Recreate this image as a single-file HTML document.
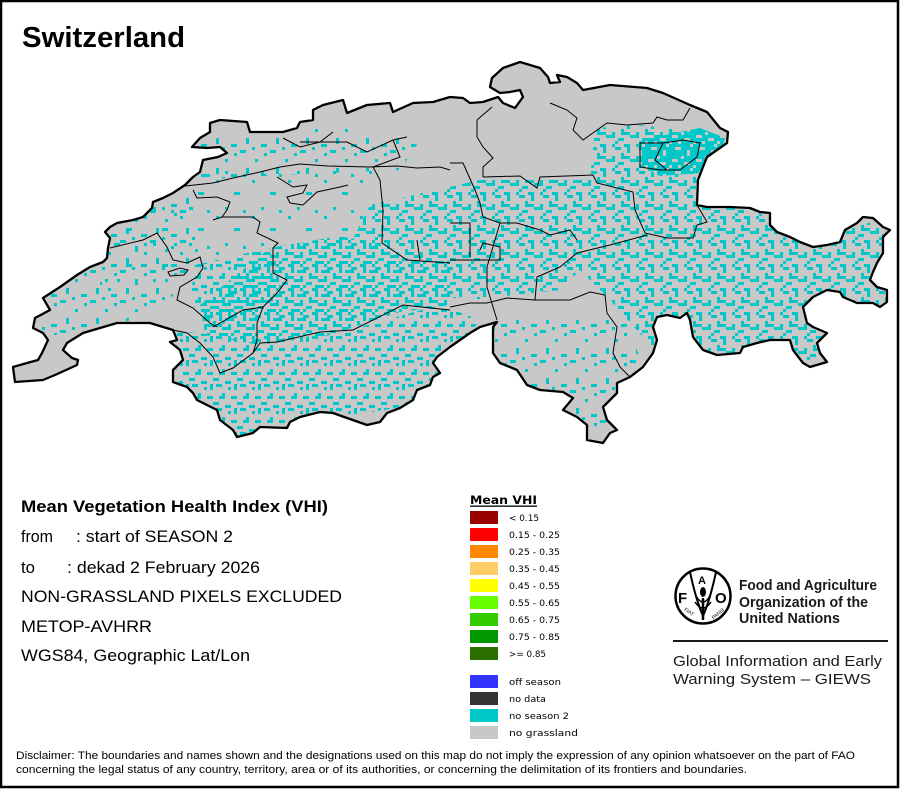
<!DOCTYPE html>
<html><head><meta charset="utf-8"><style>
html,body{margin:0;padding:0;background:#fff;}
svg{display:block;}
</style></head><body>
<svg width="900" height="789" viewBox="0 0 900 789" xmlns="http://www.w3.org/2000/svg">
<defs>
<pattern id="d37" width="24" height="24" patternUnits="userSpaceOnUse"><g fill="#00c8c8">
<rect x="0" y="0" width="6" height="3"/><rect x="3" y="3" width="3" height="6"/><rect x="12" y="0" width="3" height="3"/>
<rect x="9" y="6" width="9" height="3"/><rect x="15" y="3" width="6" height="3"/><rect x="21" y="9" width="3" height="6"/>
<rect x="0" y="12" width="6" height="3"/><rect x="6" y="15" width="6" height="3"/><rect x="12" y="12" width="3" height="6"/>
<rect x="18" y="18" width="6" height="3"/><rect x="3" y="21" width="9" height="3"/><rect x="15" y="21" width="3" height="3"/>
</g></pattern>
<pattern id="d28" width="24" height="24" patternUnits="userSpaceOnUse"><g fill="#00c8c8">
<rect x="0" y="0" width="6" height="3"/><rect x="3" y="3" width="3" height="6"/><rect x="12" y="0" width="3" height="3"/>
<rect x="15" y="3" width="6" height="3"/><rect x="21" y="9" width="3" height="6"/>
<rect x="0" y="12" width="6" height="3"/><rect x="6" y="15" width="6" height="3"/><rect x="12" y="12" width="3" height="6"/>
<rect x="18" y="18" width="6" height="3"/><rect x="15" y="21" width="3" height="3"/>
</g></pattern>
<pattern id="m22" width="24" height="24" patternUnits="userSpaceOnUse"><g fill="#00c8c8">
<rect x="0" y="0" width="6" height="3"/><rect x="12" y="3" width="3" height="3"/><rect x="18" y="0" width="3" height="6"/>
<rect x="6" y="9" width="3" height="6"/><rect x="15" y="12" width="6" height="3"/><rect x="0" y="18" width="3" height="3"/>
<rect x="9" y="21" width="6" height="3"/><rect x="21" y="18" width="3" height="3"/><rect x="3" y="12" width="3" height="3"/>
</g></pattern>
<pattern id="s9" width="30" height="30" patternUnits="userSpaceOnUse"><g fill="#00c8c8">
<rect x="0" y="0" width="6" height="3"/><rect x="15" y="9" width="3" height="3"/><rect x="24" y="3" width="3" height="3"/>
<rect x="6" y="18" width="3" height="6"/><rect x="21" y="24" width="6" height="3"/><rect x="12" y="27" width="3" height="3"/>
</g></pattern>
<pattern id="s4" width="36" height="36" patternUnits="userSpaceOnUse"><g fill="#00c8c8">
<rect x="0" y="0" width="3" height="3"/><rect x="18" y="12" width="6" height="3"/><rect x="9" y="27" width="3" height="3"/><rect x="27" y="30" width="3" height="3"/>
</g></pattern>
<pattern id="d80" width="24" height="24" patternUnits="userSpaceOnUse">
<rect x="0" y="0" width="24" height="24" fill="#00c8c8"/><g fill="#c8c8c8">
<rect x="3" y="3" width="6" height="3"/><rect x="15" y="6" width="3" height="6"/><rect x="0" y="15" width="6" height="3"/>
<rect x="12" y="18" width="6" height="3"/><rect x="21" y="21" width="3" height="3"/><rect x="9" y="12" width="3" height="3"/>
<rect x="18" y="0" width="3" height="3"/><rect x="6" y="21" width="3" height="3"/></g></pattern>
<clipPath id="cc"><path id="chp" d="M13,367 L27,363 L38,360 L42,353 L48,340 L43,333 L33,328 L35,318 L50,310 L43,298 L60,287 L77,275 L90,267 L103,262 L107,258 L108,248 L110,238 L105,232 L110,227 L117,223 L133,220 L143,217 L152,208 L153,202 L163,198 L173,193 L185,185 L193,177 L200,172 L203,160 L218,157 L227,153 L220,147 L207,148 L192,147 L200,138 L210,132 L210,123 L220,120 L247,122 L250,132 L283,132 L290,130 L297,128 L300,122 L313,120 L313,110 L323,105 L343,100 L347,113 L367,105 L390,103 L393,112 L413,103 L433,102 L450,97 L463,98 L470,103 L483,102 L498,97 L503,103 L515,108 L523,97 L520,90 L510,92 L500,93 L490,87 L492,78 L503,68 L520,62 L530,65 L540,68 L548,77 L550,83 L560,82 L557,75 L567,77 L577,83 L583,90 L610,85 L647,88 L663,93 L690,105 L707,112 L720,128 L728,132 L727,143 L717,150 L707,157 L703,167 L698,180 L697,205 L707,207 L730,207 L750,208 L760,212 L770,213 L770,225 L777,232 L790,237 L800,242 L813,247 L827,245 L840,242 L845,230 L857,223 L863,217 L873,218 L883,227 L890,230 L883,237 L883,253 L877,263 L873,272 L870,280 L877,287 L887,290 L887,302 L880,307 L873,303 L857,303 L843,297 L840,292 L827,290 L813,297 L803,307 L807,323 L813,327 L827,333 L817,343 L820,353 L827,362 L810,367 L803,363 L793,350 L790,340 L770,340 L757,343 L743,347 L740,353 L717,355 L703,350 L693,337 L690,320 L687,313 L680,318 L667,315 L657,317 L653,327 L657,340 L653,353 L643,367 L630,377 L617,383 L617,393 L603,407 L607,420 L617,430 L610,433 L603,443 L587,440 L587,425 L577,417 L563,410 L573,398 L563,392 L540,390 L527,385 L517,370 L500,363 L493,353 L493,327 L497,322 L480,327 L470,333 L450,347 L437,357 L433,363 L440,373 L433,377 L430,385 L417,390 L413,400 L400,408 L387,413 L380,422 L367,425 L347,418 L333,413 L320,412 L300,417 L290,422 L287,428 L260,427 L253,433 L237,437 L233,430 L220,420 L217,410 L197,400 L193,393 L187,387 L173,382 L173,370 L183,360 L180,350 L170,342 L177,340 L173,330 L150,323 L117,323 L83,333 L67,343 L63,350 L72,358 L78,360 L77,365 L55,375 L43,380 L15,382 Z"/></clipPath>
</defs>
<rect x="0" y="0" width="900" height="789" fill="#fff"/>
<rect x="1" y="1" width="897" height="786" fill="none" stroke="#000" stroke-width="2.5"/>

<text x="22" y="47" font-family="Liberation Sans, Arial, sans-serif" font-weight="bold" font-size="29" textLength="163" lengthAdjust="spacingAndGlyphs">Switzerland</text>

<!-- map -->
<use href="#chp" fill="#c8c8c8"/>
<g clip-path="url(#cc)">
<polygon fill="url(#s4)" points="100,170 380,170 370,260 200,270 100,300"/>
<polygon fill="url(#s9)" points="40,290 110,225 190,190 200,250 170,300 100,335 40,335"/>
<polygon fill="url(#s9)" points="200,140 340,125 420,140 400,170 280,175 200,180"/>
<polygon fill="url(#m22)" points="170,330 260,340 330,335 440,305 480,320 450,360 410,405 330,420 230,437 180,390"/>
<polygon fill="url(#m22)" points="195,265 270,248 275,300 210,330 190,300"/>
<polygon fill="url(#d37)" points="270,248 340,236 400,250 450,262 450,305 400,312 330,335 260,345 205,335 200,305 230,280"/>
<polygon fill="url(#d28)" points="370,205 480,180 590,180 600,250 560,290 470,300 390,290 350,245"/>
<polygon fill="url(#d28)" points="595,128 640,125 720,135 735,200 800,235 885,220 890,300 830,360 720,360 650,345 610,300 570,260 560,220 590,180"/>
<polygon fill="url(#d80)" points="640,140 700,128 725,138 715,172 660,176 640,165"/>
<polygon fill="url(#s9)" points="490,320 625,320 645,370 610,445 560,410 500,370"/>
</g>
<g fill="none" stroke="#000" stroke-width="1">
<polyline points="185,186 213,183 233,178 260,172 280,167 300,164 328,166 370,167 397,166 417,168 440,167 450,170"/>
<polyline points="193,190 197,198 217,197 230,202 227,210 222,217 213,220"/>
<polyline points="222,217 253,217 260,222 257,233 278,243 273,248 273,273 287,280 277,293 263,307 257,323 257,340 253,353"/>
<polyline points="110,248 143,240 157,233 167,247 173,260 187,263 200,257 203,268 197,277 180,287 177,300 193,308 210,323 217,327"/>
<polyline points="173,330 187,333 200,343 213,357 220,373 233,368 253,353 260,343 277,342 320,332 353,330 403,305 450,310"/>
<polyline points="213,327 243,310 263,307"/>
<polyline points="373,167 380,180 383,210 382,243 407,260 450,263"/>
<polyline points="417,240 420,260"/>
<polyline points="283,138 300,147 320,142 333,132"/>
<polyline points="300,142 347,142 367,152 393,140 407,137"/>
<polyline points="393,140 400,157 373,167"/>
<polyline points="277,177 293,187 307,185 303,193 287,197 290,203 303,205 317,192 340,187 348,185"/>
<polyline points="450,163 463,163 475,190 480,203 483,217 500,223 517,223 540,230 550,235 570,230 577,240"/>
<polyline points="483,177 520,176 537,188 540,177 593,175 597,183 633,192 635,210 645,233 667,238 693,238 697,225 707,222 697,205"/>
<polyline points="477,120 477,137 483,147 493,158 483,167 483,177"/>
<polyline points="492,107 477,120"/>
<polyline points="550,103 567,110 577,118 573,130 583,140 607,123 627,125 653,123 657,117 667,120 683,120 690,108"/>
<polyline points="640,143 640,167 660,170 680,170 697,157 700,143 683,140 663,143 640,143"/>
<polyline points="663,143 655,160 667,170"/>
<polyline points="577,253 610,245 647,235"/>
<polyline points="577,253 560,267 537,277 535,300 540,300 570,300 590,292 605,295 607,313 617,327 613,353 620,367 630,377"/>
<polyline points="450,307 470,303 487,303 507,298 535,300"/>
<polyline points="487,287 487,267 500,223"/>
<polyline points="487,287 493,307 497,320"/>
<polyline points="450,260 483,260 500,260 500,247 483,243 480,250"/>
<polyline points="450,223 470,223 470,257"/>
<path d="M168,272 L180,268 L188,270 L184,275 L170,276 Z"/>
</g>
<use href="#chp" fill="none" stroke="#000" stroke-width="2.3" stroke-linejoin="round"/>

<!-- left info text -->
<g font-family="Liberation Sans, Arial, sans-serif" font-size="17" fill="#000">
<text x="21" y="512" font-weight="bold" textLength="307" lengthAdjust="spacingAndGlyphs">Mean Vegetation Health Index (VHI)</text>
<text x="21" y="542" textLength="32" lengthAdjust="spacingAndGlyphs">from</text>
<text x="76" y="542" textLength="157" lengthAdjust="spacingAndGlyphs">: start of SEASON 2</text>
<text x="21" y="573" textLength="14" lengthAdjust="spacingAndGlyphs">to</text>
<text x="67" y="573" textLength="193" lengthAdjust="spacingAndGlyphs">: dekad 2 February 2026</text>
<text x="21" y="602" textLength="321" lengthAdjust="spacingAndGlyphs">NON-GRASSLAND PIXELS EXCLUDED</text>
<text x="21" y="632" textLength="131" lengthAdjust="spacingAndGlyphs">METOP-AVHRR</text>
<text x="21" y="661" textLength="229" lengthAdjust="spacingAndGlyphs">WGS84, Geographic Lat/Lon</text>
</g>

<!-- legend -->
<text x="470" y="504" font-family="DejaVu Sans, Liberation Sans, sans-serif" font-weight="bold" font-size="11.5" textLength="67" lengthAdjust="spacingAndGlyphs">Mean VHI</text>
<rect x="470" y="505.5" width="67" height="1.3" fill="#000"/>
<g>
<rect x="470" y="511" width="28" height="13" fill="#990000"/>
<rect x="470" y="528" width="28" height="13" fill="#ff0000"/>
<rect x="470" y="545" width="28" height="13" fill="#ff8800"/>
<rect x="470" y="562" width="28" height="13" fill="#ffcc66"/>
<rect x="470" y="579" width="28" height="13" fill="#ffff00"/>
<rect x="470" y="596" width="28" height="13" fill="#66ff00"/>
<rect x="470" y="613" width="28" height="13" fill="#33cc00"/>
<rect x="470" y="630" width="28" height="13" fill="#009900"/>
<rect x="470" y="647" width="28" height="13" fill="#2e7000"/>
<rect x="470" y="675" width="28" height="13" fill="#3333ff"/>
<rect x="470" y="692" width="28" height="13" fill="#333333"/>
<rect x="470" y="709" width="28" height="13" fill="#00c8c8"/>
<rect x="470" y="726" width="28" height="13" fill="#c8c8c8"/>
</g>
<g font-family="DejaVu Sans, Liberation Sans, sans-serif" font-size="9" fill="#000">
<text x="509" y="521" textLength="30" lengthAdjust="spacingAndGlyphs">&lt; 0.15</text>
<text x="509" y="538" textLength="51" lengthAdjust="spacingAndGlyphs">0.15 - 0.25</text>
<text x="509" y="555" textLength="51" lengthAdjust="spacingAndGlyphs">0.25 - 0.35</text>
<text x="509" y="572" textLength="51" lengthAdjust="spacingAndGlyphs">0.35 - 0.45</text>
<text x="509" y="589" textLength="51" lengthAdjust="spacingAndGlyphs">0.45 - 0.55</text>
<text x="509" y="606" textLength="51" lengthAdjust="spacingAndGlyphs">0.55 - 0.65</text>
<text x="509" y="623" textLength="51" lengthAdjust="spacingAndGlyphs">0.65 - 0.75</text>
<text x="509" y="640" textLength="51" lengthAdjust="spacingAndGlyphs">0.75 - 0.85</text>
<text x="509" y="657" textLength="37" lengthAdjust="spacingAndGlyphs">&gt;= 0.85</text>
<text x="509" y="685" textLength="52" lengthAdjust="spacingAndGlyphs">off season</text>
<text x="509" y="702" textLength="37" lengthAdjust="spacingAndGlyphs">no data</text>
<text x="509" y="719" textLength="60" lengthAdjust="spacingAndGlyphs">no season 2</text>
<text x="509" y="736" textLength="69" lengthAdjust="spacingAndGlyphs">no grassland</text>
</g>

<!-- FAO logo -->
<g>
<circle cx="703" cy="596" r="27.5" fill="#fff" stroke="#000" stroke-width="2.5"/>
<path d="M690,572 Q696,600 703,616 Q710,600 716,572" fill="none" stroke="#000" stroke-width="2"/>
<line x1="703" y1="598" x2="703" y2="620" stroke="#000" stroke-width="2.5"/>
<ellipse cx="703" cy="592" rx="3" ry="5" fill="#000"/>
<path d="M696,596 Q703,608 710,596" fill="none" stroke="#000" stroke-width="1.5"/>
<path d="M695,602 Q703,614 711,602" fill="none" stroke="#000" stroke-width="1.5"/>
<text x="678" y="603" font-family="Liberation Sans, Arial, sans-serif" font-weight="bold" font-size="15">F</text>
<text x="715" y="603" font-family="Liberation Sans, Arial, sans-serif" font-weight="bold" font-size="15">O</text>
<text x="698" y="584" font-family="Liberation Sans, Arial, sans-serif" font-weight="bold" font-size="11">A</text>
<text x="682" y="612" font-family="Liberation Sans, Arial, sans-serif" font-size="5" transform="rotate(35 686 614)">FIAT</text>
<text x="710" y="618" font-family="Liberation Sans, Arial, sans-serif" font-size="5" transform="rotate(-40 714 614)">PANIS</text>
</g>
<g font-family="Liberation Sans, Arial, sans-serif" fill="#1a1a1a">
<text x="739" y="590" font-weight="bold" font-size="15" textLength="138" lengthAdjust="spacingAndGlyphs">Food and Agriculture</text>
<text x="739" y="607" font-weight="bold" font-size="15" textLength="129" lengthAdjust="spacingAndGlyphs">Organization of the</text>
<text x="739" y="623" font-weight="bold" font-size="15" textLength="101" lengthAdjust="spacingAndGlyphs">United Nations</text>
<text x="673" y="666" font-size="14.5" textLength="209" lengthAdjust="spacingAndGlyphs">Global Information and Early</text>
<text x="673" y="684" font-size="14.5" textLength="198" lengthAdjust="spacingAndGlyphs">Warning System – GIEWS</text>
</g>
<rect x="673" y="640" width="215" height="2" fill="#1a1a1a"/>

<!-- disclaimer -->
<g font-family="Liberation Sans, Arial, sans-serif" font-size="11" fill="#000">
<text x="16" y="759" textLength="839" lengthAdjust="spacingAndGlyphs">Disclaimer: The boundaries and names shown and the designations used on this map do not imply the expression of any opinion whatsoever on the part of FAO</text>
<text x="16" y="773" textLength="731" lengthAdjust="spacingAndGlyphs">concerning the legal status of any country, territory, area or of its authorities, or concerning the delimitation of its frontiers and boundaries.</text>
</g>
</svg>
</body></html>
